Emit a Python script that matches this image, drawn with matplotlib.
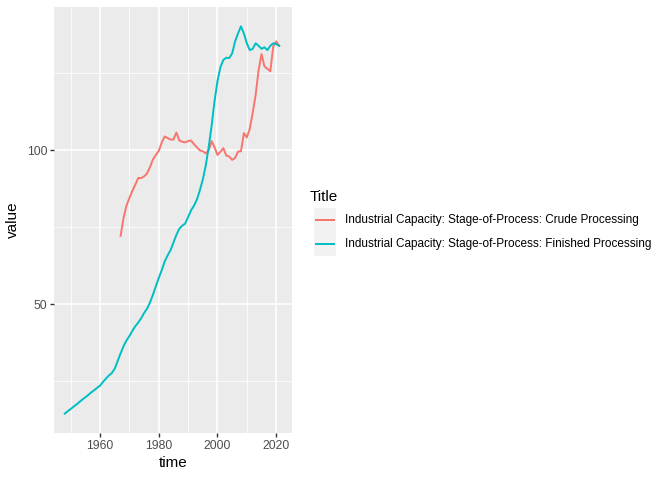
import matplotlib
matplotlib.use("Agg")
import matplotlib.pyplot as plt
from matplotlib.lines import Line2D
from matplotlib.patches import Rectangle
import numpy as np

# ---- data ----
finished_years = list(range(1948, 2022))
finished_values = [
    14.4, 15.2, 15.9, 16.7, 17.4, 18.2, 19.0, 19.7, 20.5, 21.3,   # 1948-1957
    22.0, 22.8, 23.5, 24.7, 25.8, 26.8, 27.6, 29.0, 31.5, 34.0,   # 1958-1967
    36.3, 38.2, 39.6, 41.3, 42.8, 44.0, 45.4, 47.1, 48.5, 50.5,   # 1968-1977
    53.0, 55.8, 58.5, 61.0, 63.8, 65.8, 67.5, 70.0, 72.5, 74.5,   # 1978-1987
    75.5, 76.2, 78.3, 80.5, 82.0, 84.0, 87.0, 90.5, 95.0, 101.0,  # 1988-1997
    108.0, 116.0, 122.5, 127.0, 129.4, 130.1, 130.0, 131.5, 135.4, 138.0,  # 1998-2007
    140.3, 138.0, 134.8, 132.6, 133.0, 134.8, 134.0, 133.0, 133.5, 132.6,  # 2008-2017
    134.0, 134.8, 134.5, 134.0,                                   # 2018-2021
]
crude_years = list(range(1967, 2022))
crude_values = [
    72.2, 78.0, 82.0, 84.5, 86.8, 88.8, 91.0, 91.0, 91.5, 92.5,   # 1967-1976
    94.5, 97.0, 98.5, 99.8, 102.5, 104.5, 104.0, 103.5, 103.5, 105.8,  # 1977-1986
    103.2, 102.8, 102.6, 103.0, 103.2, 102.0, 101.0, 100.0, 99.7, 99.0,  # 1987-1996
    100.0, 103.0, 101.0, 98.5, 99.5, 100.7, 98.3, 98.0, 96.9, 97.5,  # 1997-2006
    99.6, 99.7, 105.6, 104.2, 107.0, 112.2, 118.0, 126.0, 131.3, 127.3,  # 2007-2016
    126.5, 125.7, 133.8, 135.4, 134.0,                            # 2017-2021
]
series_names = [
    "Industrial Capacity: Stage-of-Process: Crude Processing",
    "Industrial Capacity: Stage-of-Process: Finished Processing",
]
series_colors = ["#F8766D", "#00BFC4"]
x_ticks = [1960, 1980, 2000, 2020]
y_ticks = [50, 100]

# ---- figure ----
plt.rcParams["font.family"] = ["Liberation Sans", "DejaVu Sans"]
fig = plt.figure(figsize=(6.72, 4.8), dpi=100)
W, H = 672, 480
pl, pr, pt, pb = 54, 292, 7, 433
ax = fig.add_axes([pl / W, 1 - pb / H, (pr - pl) / W, (pb - pt) / H])
ax.set_facecolor("#EBEBEB")
for s in ax.spines.values():
    s.set_visible(False)

data = [(crude_years, crude_values), (finished_years, finished_values)]
for (xs, ys), c in zip(data, series_colors):
    ax.plot(xs, ys, color=c, lw=1.42, solid_joinstyle="round", zorder=3)

allx = finished_years + crude_years
ally = finished_values + crude_values
xmin, xmax = min(allx), max(allx) + 0.7
ymin, ymax = min(ally), max(ally)
xr, yr = xmax - xmin, ymax - ymin
ax.set_xlim(xmin - 0.05 * xr, xmax + 0.05 * xr)
ax.set_ylim(ymin - 0.05 * yr, ymax + 0.05 * yr)

ax.set_xticks(x_ticks)
ax.set_yticks(y_ticks)
ax.set_xticks([1950, 1970, 1990, 2010], minor=True)
ax.set_yticks([25, 75, 125], minor=True)
ax.grid(which="major", color="white", lw=1.1)
ax.grid(which="minor", color="white", lw=0.55)
ax.set_axisbelow(True)
ax.tick_params(which="major", length=2.75, width=1.0, color="#333333",
               labelsize=8.8, labelcolor="#4D4D4D", pad=2.2)
ax.tick_params(which="minor", length=0)
ax.set_xlabel("time", fontsize=11, labelpad=3)
ax.set_ylabel("value", fontsize=11, labelpad=5)

# ---- legend ----
fig.text(310 / W, 1 - 197 / H, "Title", fontsize=11, ha="left", va="center")
key_left, key_right = 314, 336
row_y = [220, 244]
fig.add_artist(Rectangle((key_left / W, 1 - 256 / H), (key_right - key_left) / W,
                         48 / H, transform=fig.transFigure,
                         facecolor="#F2F2F2", edgecolor="none"))
for name, c, yy in zip(series_names, series_colors, row_y):
    fig.add_artist(Line2D([(key_left + 2) / W, (key_right - 2) / W],
                          [1 - yy / H, 1 - yy / H], transform=fig.transFigure,
                          color=c, lw=1.42))
    fig.text(345 / W, 1 - yy / H, name, fontsize=8.5, ha="left", va="center")

fig.savefig("out.png", dpi=100)
